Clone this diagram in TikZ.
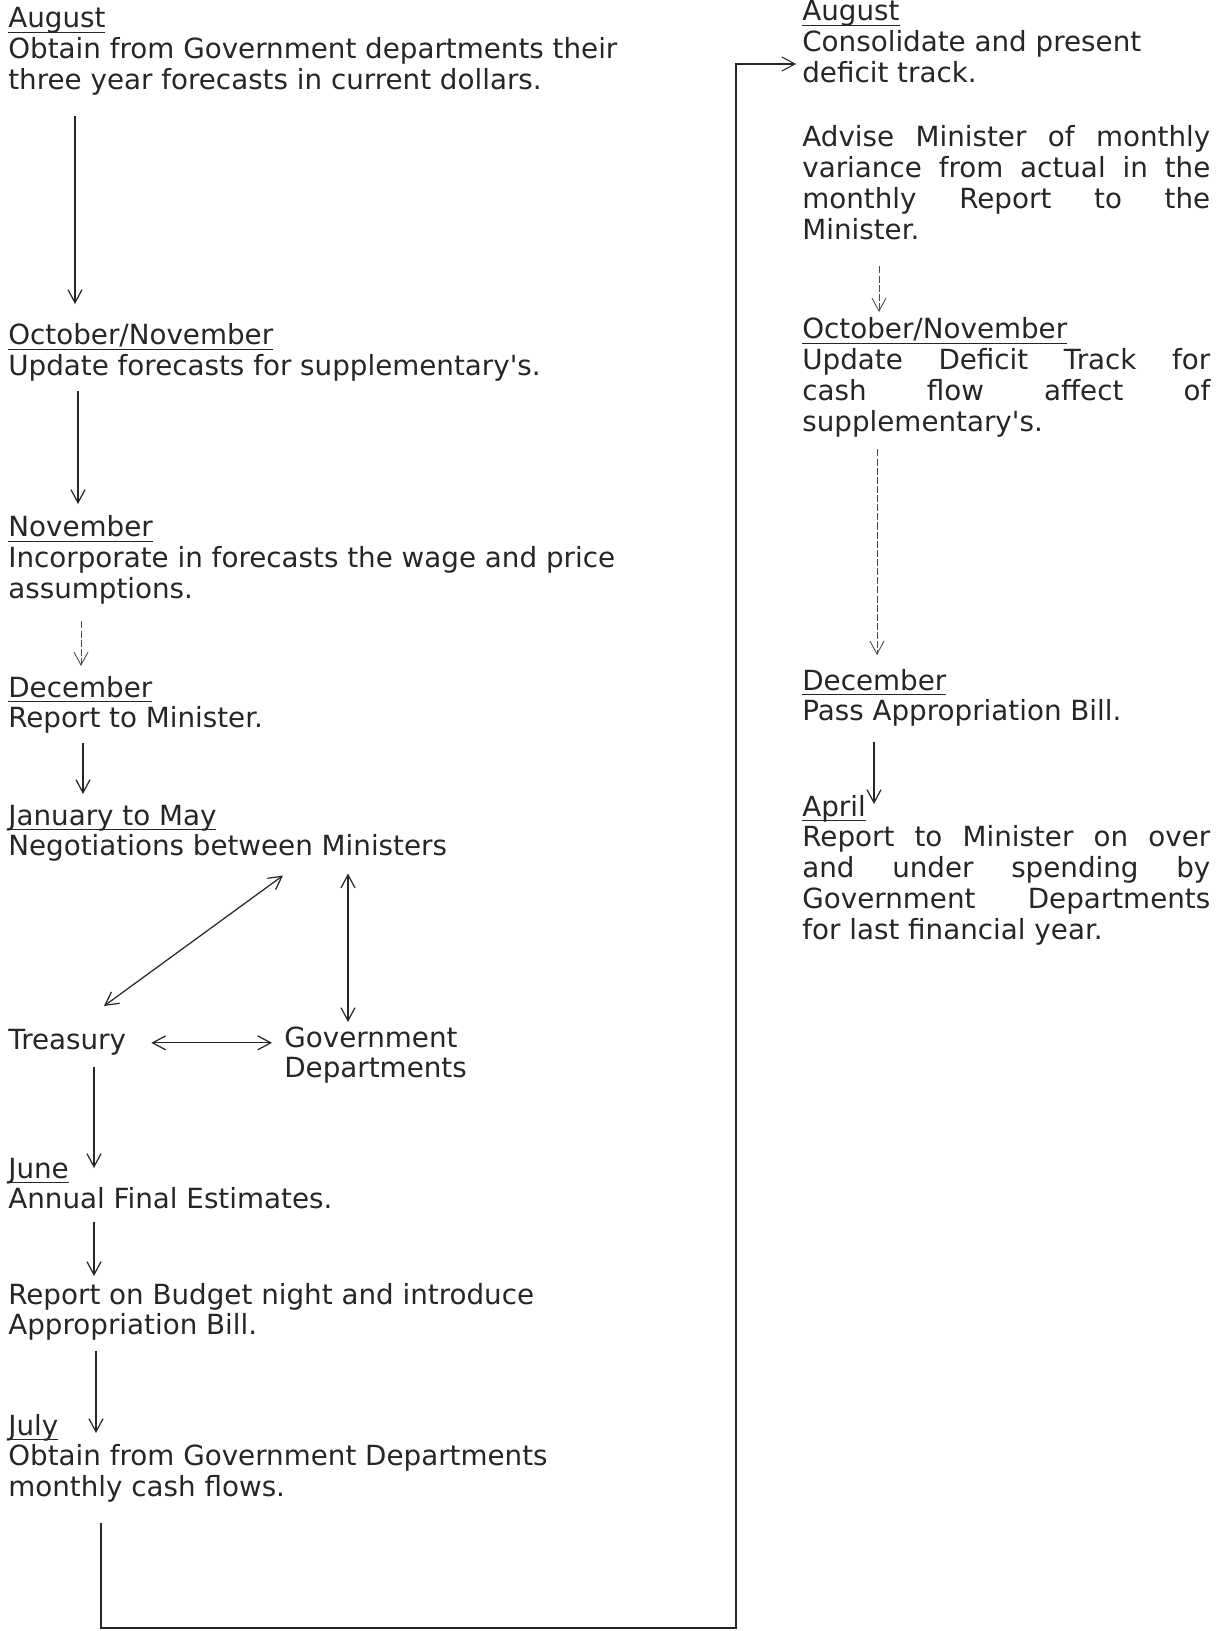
\documentclass[tikz,border=0pt]{standalone}
\usepackage{fontspec}
\setmainfont{DejaVu Sans}
\usepackage{xcolor}
\definecolor{inkgrey}{HTML}{262626}
\usepackage{tikz}
\usetikzlibrary{arrows.meta,calc}

\newlength{\rcolw}
\setlength{\rcolw}{8.16cm}
\newsavebox{\mhbox}
\newcommand{\monthhead}[1]{\sbox{\mhbox}{#1}\rlap{\rule[-3pt]{\wd\mhbox}{0.9pt}}\usebox{\mhbox}}
\newcommand{\jline}[1]{\makebox[\rcolw][s]{#1}}

\begin{document}
\begin{tikzpicture}[
  x=0.02cm, y=-0.02cm,
  entry/.style={anchor=north west, inner sep=0pt, align=left, text=inkgrey,
                font=\fontsize{15.8}{17.6}\selectfont},
  flow/.style={-{Straight Barb[length=2.6mm,width=2.8mm]}, line width=0.7pt, inkgrey},
  faint/.style={flow, line width=0.5pt, dash pattern=on 4pt off 1.2pt, black!70},
  both/.style={flow, {Straight Barb[length=2.6mm,width=2.8mm]}-{Straight Barb[length=2.6mm,width=2.8mm]}},
]
\useasboundingbox (0,0) rectangle (1227,1631);

% ---------- left column
\node[entry] (aug) at (8,6) {\strut\monthhead{August}\\
  Obtain from Government departments their\\
  three year forecasts in current dollars.\strut};
\node[entry] (octnov) at (8,323) {\strut\monthhead{October/November}\\
  Update forecasts for supplementary\textquotesingle s.\strut};
\node[entry] (nov) at (8,515) {\strut\monthhead{November}\\
  Incorporate in forecasts the wage and price\\
  assumptions.\strut};
\node[entry] (dec) at (8,675) {\strut\monthhead{December}\\
  Report to Minister.\strut};
\node[entry] (jan) at (8,803) {\strut\monthhead{January to May}\\
  Negotiations between Ministers\strut};
\node[entry] (treas) at (8,1027) {\strut Treasury\strut};
\node[entry] (govt) at (284,1025) {\strut Government\\ Departments\strut};
\node[entry] (june) at (8,1156) {\strut\monthhead{June}\\
  Annual Final Estimates.\strut};
\node[entry] (bud) at (8,1282) {\strut Report on Budget night and introduce\\
  Appropriation Bill.\strut};
\node[entry] (july) at (8,1413) {\strut\monthhead{July}\\
  Obtain from Government Departments\\
  monthly cash flows.\strut};

\draw[flow, shorten <=0.34cm, shorten >=0.38cm] (75,0 |- aug.south) -- (75,0 |- octnov.north);
\draw[flow, shorten <=0.1cm, shorten >=0.22cm] (78,0 |- octnov.south) -- (78,0 |- nov.north);
\draw[faint, shorten <=0.26cm, shorten >=0.18cm] (81,0 |- nov.south) -- (81,0 |- dec.north);
\draw[flow, shorten <=0.1cm, shorten >=0.18cm] (83,0 |- dec.south) -- (83,0 |- jan.north);

% ---------- the negotiation triangle
\draw[both] ($(283,0 |- jan.south)+(0,10)$) -- ($(104,0 |- treas.north)+(0,-21)$);
\draw[both, shorten <=0.16cm, shorten >=0.06cm] (348,0 |- jan.south) -- (348,0 |- govt.north);
\draw[both, shorten <=0.5cm, shorten >=0.24cm] (treas.east) -- (treas.east -| govt.west);

\draw[flow, shorten <=0.16cm, shorten >=-0.24cm] (94,0 |- treas.south) -- (94,0 |- june.north);
\draw[flow, shorten <=0.06cm, shorten >=0.12cm] (94,0 |- june.south) -- (94,0 |- bud.north);
\draw[flow, shorten <=0.12cm, shorten >=-0.4cm] (96,0 |- bud.south) -- (96,0 |- july.north);

% ---------- right column
\node[entry] (raug) at (802,-1) {\strut\monthhead{August}\\
  Consolidate and present\\
  deficit track.\strut};
\node[entry] (radv) at (802,125) {\strut\jline{Advise Minister of monthly}\\
  \jline{variance from actual in the}\\
  \jline{monthly Report to the}\\
  Minister.\strut};
\node[entry] (roct) at (802,317) {\strut\monthhead{October/November}\\
  \jline{Update Deficit Track for}\\
  \jline{cash flow affect of}\\
  supplementary\textquotesingle s.\strut};
\node[entry] (rdec) at (802,668) {\strut\monthhead{December}\\
  Pass Appropriation Bill.\strut};
\node[entry] (rapr) at (802,794) {\strut\monthhead{April}\\
  \jline{Report to Minister on over}\\
  \jline{and under spending by}\\
  \jline{Government Departments}\\
  for last financial year.\strut};

\draw[faint, shorten <=0.34cm, shorten >=0.1cm] (879,0 |- radv.south) -- (879,0 |- roct.north);
\draw[faint, shorten <=0.16cm, shorten >=0.26cm] (877,0 |- roct.south) -- (877,0 |- rdec.north);
\draw[flow, shorten <=0.22cm, shorten >=-0.2cm] (874,0 |- rdec.south) -- (874,0 |- rapr.north);

% ---------- carry over to the next August
\coordinate (loopR) at (736,1628);
\draw[flow, line width=0.6pt, shorten <=0.34cm, shorten >=0.12cm]
  (101,0 |- july.south) |- (loopR) |- (raug.west |- 0,64);
\end{tikzpicture}
\end{document}
